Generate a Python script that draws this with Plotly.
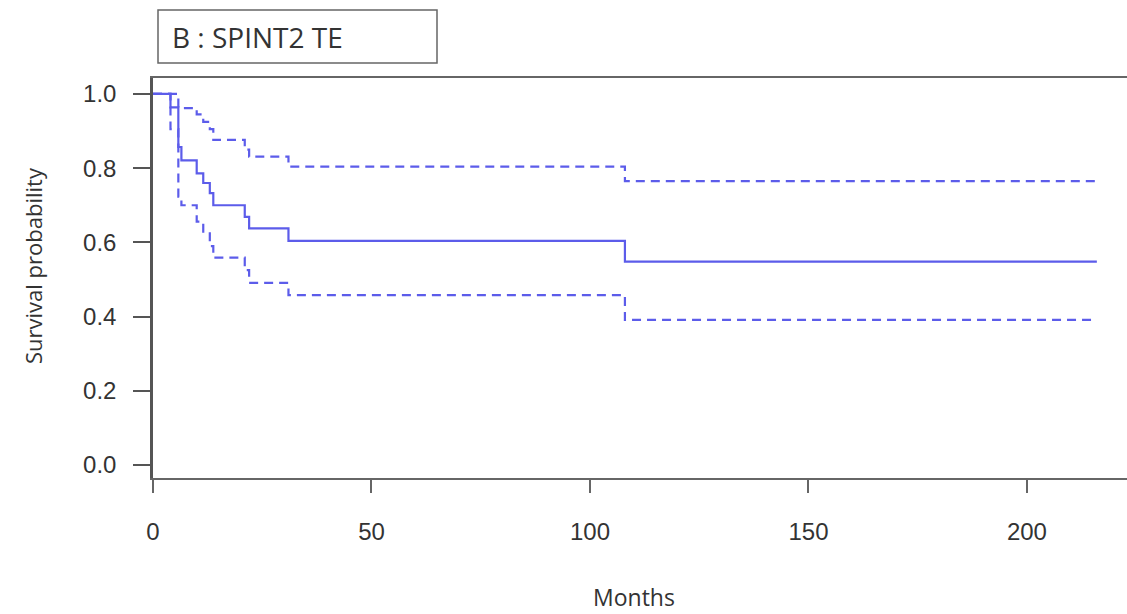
import plotly.graph_objects as go

# Kaplan-Meier estimate (months, survival probability)
surv_time = [0, 4, 5.8, 6.5, 10, 11.5, 13, 13.8, 21, 22, 31, 108, 216]
surv_prob = [1.0, 0.964, 0.857, 0.821, 0.786, 0.760, 0.733, 0.700, 0.669, 0.638, 0.604, 0.548, 0.548]

# Upper 95% confidence bound
upper_time = [0, 5.8, 10, 11.5, 13, 13.8, 21, 22, 31, 108, 216]
upper_prob = [1.0, 0.962, 0.945, 0.925, 0.905, 0.876, 0.850, 0.831, 0.804, 0.765, 0.765]

# Lower 95% confidence bound
lower_time = [0, 4, 5.8, 6.5, 10, 11.5, 13, 13.8, 21, 22, 31, 108, 216]
lower_prob = [1.0, 0.905, 0.723, 0.700, 0.656, 0.629, 0.590, 0.559, 0.525, 0.491, 0.458, 0.391, 0.391]

x_ticks = [0, 50, 100, 150, 200]
y_ticks = [0.0, 0.2, 0.4, 0.6, 0.8, 1.0]
y_tick_text = ["0.0", "0.2", "0.4", "0.6", "0.8", "1.0"]

panel_title = "B : SPINT2 TE"
x_title = "Months"
y_title = "Survival probability"

line_color = "rgb(92,92,234)"

fig = go.Figure()
fig.add_trace(go.Scatter(x=upper_time, y=upper_prob, mode="lines", line_shape="hv",
                         line=dict(color=line_color, width=2.2, dash="9px,6px"), showlegend=False))
fig.add_trace(go.Scatter(x=lower_time, y=lower_prob, mode="lines", line_shape="hv",
                         line=dict(color=line_color, width=2.2, dash="9px,6px"), showlegend=False))
fig.add_trace(go.Scatter(x=surv_time, y=surv_prob, mode="lines", line_shape="hv",
                         line=dict(color=line_color, width=2.2), showlegend=False))

W, H = 1127, 614
L, R, T, B = 153, 0, 78, 136

fig.update_layout(
    width=W, height=H,
    margin=dict(l=L, r=R, t=T, b=B, pad=0),
    paper_bgcolor="white", plot_bgcolor="white",
    font=dict(family="Liberation Sans, Arial, sans-serif", size=24, color="#333"),
    xaxis=dict(range=[0, 222.9], tickvals=x_ticks, ticktext=[str(v) for v in x_ticks],
               showgrid=False, zeroline=False, showline=True, linecolor="#666", linewidth=2,
               mirror=True, ticks="outside", ticklen=13, tickcolor="#666", tickwidth=1.5,
               ticklabelstandoff=18, tickfont=dict(size=24, color="#333")),
    yaxis=dict(range=[-0.035, 1.043], tickvals=y_ticks, ticktext=y_tick_text,
               showgrid=False, zeroline=False, showline=True, linecolor="#555", linewidth=2.5,
               ticks="outside", ticklen=17, tickcolor="#555", tickwidth=1.5,
               ticklabelstandoff=12, tickfont=dict(size=24, color="#333")),
)

PW = W - L - R
PH = H - T - B

def px(xp):
    return (xp - L) / PW

def py(yp):
    return (H - B - yp) / PH

fig.add_shape(type="rect", xref="paper", yref="paper",
              x0=px(158), x1=px(437), y0=py(63), y1=py(10),
              line=dict(color="#666", width=1.5), fillcolor="white")
fig.add_annotation(xref="paper", yref="paper", x=px(170), y=py(37), xanchor="left", yanchor="middle",
                   text=panel_title, showarrow=False,
                   font=dict(family="Open Sans, sans-serif", size=28, color="#333"))
fig.add_annotation(xref="paper", yref="paper", x=px(634), y=py(597), xanchor="center", yanchor="middle",
                   text=x_title, showarrow=False,
                   font=dict(family="Open Sans, sans-serif", size=23, color="#333"))
fig.add_annotation(xref="paper", yref="paper", x=px(33), y=py(266), xanchor="center", yanchor="middle",
                   text=y_title, showarrow=False, textangle=-90,
                   font=dict(family="Open Sans, sans-serif", size=22, color="#333"))

fig.write_html("out.html", config={"displayModeBar": False},
               post_script="document.body.style.margin='0px';document.body.style.overflow='hidden';")
